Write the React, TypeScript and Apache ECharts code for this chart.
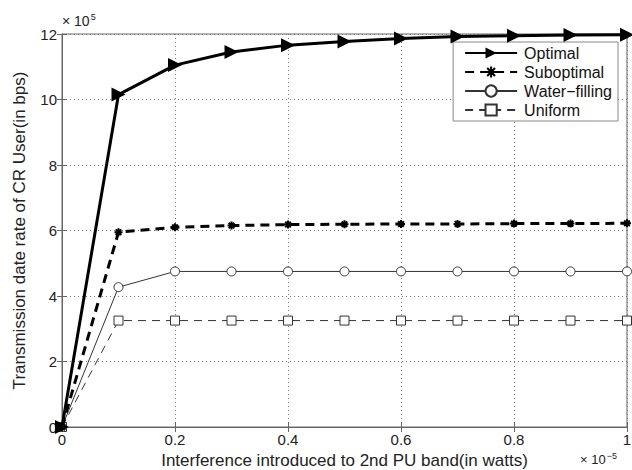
import React, { useEffect, useRef } from "react";
import * as echarts from "echarts";

// x: interference (×10^-5 W), y: rate (×10^5 bps)
const xValues = [0, 0.1, 0.2, 0.3, 0.4, 0.5, 0.6, 0.7, 0.8, 0.9, 1.0];
const optimal = [0, 10.15, 11.05, 11.45, 11.66, 11.77, 11.86, 11.92, 11.95, 11.97, 11.98];
const suboptimal = [0, 5.95, 6.1, 6.15, 6.18, 6.19, 6.2, 6.2, 6.21, 6.21, 6.22];
const waterFilling = [0, 4.27, 4.75, 4.75, 4.75, 4.75, 4.75, 4.75, 4.75, 4.75, 4.75];
const uniform = [0, 3.25, 3.25, 3.25, 3.25, 3.25, 3.25, 3.25, 3.25, 3.25, 3.25];
const seriesNames = ["Optimal", "Suboptimal", "Water\u2212filling", "Uniform"];

const FONT = "Liberation Sans, Arial, sans-serif";

export default function App() {
  const ref = useRef<HTMLDivElement>(null);
  useEffect(() => {
    if (!ref.current) return;
    const chart = echarts.init(ref.current, undefined, { renderer: "svg" });
    const pair = (ys: number[]) => xValues.map((x, i) => [x, ys[i]]);
    const starPath =
      "path://M0,5L10,5M5,0L5,10M1.5,1.5L8.5,8.5M8.5,1.5L1.5,8.5";
    const axisCol = "#666";
    chart.setOption({
      animation: false,
      backgroundColor: "#fff",
      textStyle: { fontFamily: FONT },
      grid: {
        left: 62,
        right: 5,
        top: 34,
        bottom: 43,
        outerBoundsMode: "none",
        containLabel: false,
        show: true,
        borderColor: axisCol,
        borderWidth: 1,
      },
      legend: {
        orient: "vertical",
        right: 14,
        top: 42,
        itemWidth: 52,
        itemHeight: 14,
        itemGap: 3,
        padding: [3, 6, 3, 11],
        borderColor: "#888",
        borderWidth: 1,
        backgroundColor: "#fff",
        textStyle: { fontFamily: FONT, fontSize: 16, color: "#111", padding: [0, 0, 0, 2] },
        data: seriesNames,
      },
      xAxis: [
        {
          type: "value",
          min: 0,
          max: 1,
          interval: 0.2,
          name: "Interference introduced to 2nd PU band(in watts)",
          nameLocation: "middle",
          nameGap: 22,
          nameTextStyle: { fontFamily: FONT, fontSize: 17, color: "#222" },
          axisLine: { show: true, lineStyle: { color: axisCol } },
          axisTick: { inside: true, length: 5, lineStyle: { color: axisCol } },
          axisLabel: {
            fontFamily: FONT,
            fontSize: 15,
            color: "#222",
            margin: 5,
            formatter: (v: number) => (v === 0 ? "0" : v === 1 ? "1" : v.toFixed(1)),
          },
          splitLine: { show: true, lineStyle: { color: "#777", type: [1, 3] } },
        },
        {
          type: "value",
          position: "top",
          min: 0,
          max: 1,
          interval: 0.2,
          axisLine: { show: true, lineStyle: { color: axisCol } },
          axisTick: { inside: true, length: 5, lineStyle: { color: axisCol } },
          axisLabel: { show: false },
          splitLine: { show: false },
        },
      ],
      yAxis: [
        {
          type: "value",
          min: 0,
          max: 12,
          interval: 2,
          name: "Transmission date rate of CR User(in bps)",
          nameLocation: "middle",
          nameGap: 34,
          nameRotate: 90,
          nameTextStyle: { fontFamily: FONT, fontSize: 17, color: "#222" },
          axisLine: { show: true, lineStyle: { color: axisCol } },
          axisTick: { inside: true, length: 5, lineStyle: { color: axisCol } },
          axisLabel: { fontFamily: FONT, fontSize: 15, color: "#222", margin: 5 },
          splitLine: { show: true, lineStyle: { color: "#777", type: [1, 3] } },
        },
        {
          type: "value",
          position: "right",
          min: 0,
          max: 12,
          interval: 2,
          axisLine: { show: true, lineStyle: { color: axisCol } },
          axisTick: { inside: true, length: 5, lineStyle: { color: axisCol } },
          axisLabel: { show: false },
          splitLine: { show: false },
        },
      ],
      series: [
        {
          name: seriesNames[0],
          type: "line",
          data: pair(optimal),
          symbol: "triangle",
          symbolRotate: -90,
          symbolSize: 14,
          itemStyle: { color: "#000" },
          lineStyle: { color: "#000", width: 3 },
          z: 5,
        },
        {
          name: seriesNames[1],
          type: "line",
          data: pair(suboptimal),
          symbol: starPath,
          symbolSize: 8,
          itemStyle: { color: "#000", borderColor: "#000", borderWidth: 2 },
          lineStyle: { color: "#000", width: 3, type: [9, 6] },
          z: 4,
        },
        {
          name: seriesNames[2],
          type: "line",
          data: pair(waterFilling),
          symbol: "circle",
          symbolSize: 9,
          itemStyle: { color: "#fff", borderColor: "#333", borderWidth: 1 },
          lineStyle: { color: "#333", width: 1 },
          z: 3,
        },
        {
          name: seriesNames[3],
          type: "line",
          data: pair(uniform),
          symbol: "rect",
          symbolSize: 9,
          itemStyle: { color: "#fff", borderColor: "#333", borderWidth: 1 },
          lineStyle: { color: "#333", width: 1, type: [8, 6] },
          z: 2,
        },
      ],
      graphic: [
        {
          type: "text",
          left: 62,
          top: 12,
          style: {
            text: "{b|× 10}{s|5}",
            rich: {
              b: { fontFamily: FONT, fontSize: 14, fill: "#222" },
              s: { fontFamily: FONT, fontSize: 9, fill: "#222", verticalAlign: "top", padding: [0, 0, 9, 1] },
            },
          },
        },
        {
          type: "text",
          left: 580,
          top: 451,
          style: {
            text: "{b|× 10}{s|−5}",
            rich: {
              b: { fontFamily: FONT, fontSize: 13, fill: "#222" },
              s: { fontFamily: FONT, fontSize: 9, fill: "#222", verticalAlign: "top", padding: [0, 0, 8, 1] },
            },
          },
        },
      ],
    });
    return () => chart.dispose();
  }, []);
  return <div ref={ref} style={{ width: 632, height: 470, position: "absolute", left: 0, top: 0 }} />;
}
